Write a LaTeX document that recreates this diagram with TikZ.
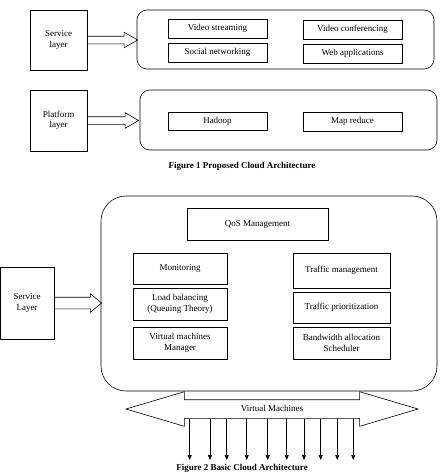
\documentclass[tikz,border=0pt]{standalone}
\usepackage{fontspec}
\setmainfont{Liberation Serif}
\usetikzlibrary{shapes.arrows,arrows.meta}

\begin{document}
\begin{tikzpicture}[x=1pt,y=-1pt,line width=0.6pt,
  every node/.style={font=\fontsize{9}{10.5}\selectfont},
  layerbox/.style={draw,minimum width=57pt,align=center,inner sep=0pt},
  comp/.style={draw,minimum width=99pt,minimum height=19pt,inner sep=0pt,align=center},
  frame/.style={draw,rounded corners=10pt,inner sep=0pt},
  hollowarrow/.style={draw,single arrow,inner xsep=0pt,anchor=tail},
  caption/.style={font=\fontsize{9}{10.5}\selectfont\bfseries}]

\useasboundingbox (0,0) rectangle (445,474);

% Figure 1
\node[layerbox,minimum height=60pt] (service) at (58.5,40) {Service\\layer};
\node[frame,minimum width=297pt,minimum height=59pt] (services) at (285.5,39.5) {};
\node[comp] (streaming) at (217.5,28.5) {Video streaming};
\node[comp] (social) at (217.5,52.5) {Social networking};
\node[comp] (conferencing) at (352.5,29.5) {Video conferencing};
\node[comp] (webapps) at (352.5,53.5) {Web applications};
\node[hollowarrow,minimum width=15pt,inner ysep=3.5pt,single arrow head extend=4pt,
  single arrow tip angle=60,minimum height=50pt] (arrowa) at (service.east) {};

\node[layerbox,minimum height=61pt] (platform) at (58.5,120.5) {Platform\\layer};
\node[frame,minimum width=297pt,minimum height=60pt] (platforms) at (288.5,120) {};
\node[comp,minimum height=18pt] (hadoop) at (217.5,121) {Hadoop};
\node[comp] (mapreduce) at (352.5,121.5) {Map reduce};
\node[hollowarrow,minimum width=15pt,inner ysep=3.5pt,single arrow head extend=4pt,
  single arrow tip angle=60,minimum height=51pt] (arrowb) at (platform.east) {};

\node[caption] (cap1) at (242,166) {Figure 1 Proposed Cloud Architecture};

% Figure 2
\node[frame,rounded corners=25pt,minimum width=336pt,minimum height=195pt] (cloud) at (269,293.5) {};
\node[comp,minimum width=141pt,minimum height=32pt] (qos) at (257.5,224) {QoS Management};
\node[comp,minimum width=94pt,minimum height=31pt] (monitor) at (180,268.5) {Monitoring};
\node[comp,minimum width=94pt,minimum height=32pt] (balance) at (180,304) {Load balancing\\(Queuing Theory)};
\node[comp,minimum width=94pt,minimum height=32pt] (vmmanager) at (180,343) {Virtual machines\\Manager};
\node[comp,minimum width=97pt,minimum height=35pt] (traffic) at (341.5,270.5) {Traffic management};
\node[comp,minimum width=97pt,minimum height=31pt] (priority) at (341.5,307.5) {Traffic prioritization};
\node[comp,minimum width=97pt,minimum height=32pt] (bandwidth) at (341.5,343) {Bandwidth allocation\\Scheduler};

\node[layerbox,minimum width=54pt,minimum height=72pt] (layer) at (27,303) {Service\\Layer};
\node[hollowarrow,minimum width=18pt,inner ysep=5.5pt,single arrow head extend=3.5pt,
  single arrow tip angle=79,minimum height=47pt] (arrowc) at (layer.east) {};

\node[draw,double arrow,double arrow tip angle=33,double arrow head extend=8pt,
  minimum width=34pt,minimum height=292pt,inner xsep=0pt,inner ysep=5pt,
  text height=6pt,text depth=2pt] (vm) at (272,409) {Virtual Machines};
\foreach \x in {189.7,210,226.7,246.7,267.7,286.7,304,320.7,337.3,353.3}
  \draw[-{Triangle[width=4pt,length=5pt]}] (vm.south -| \x,0) -- (\x,460);

\node[caption] (cap2) at (242,468) {Figure 2 Basic Cloud Architecture};

\end{tikzpicture}
\end{document}
